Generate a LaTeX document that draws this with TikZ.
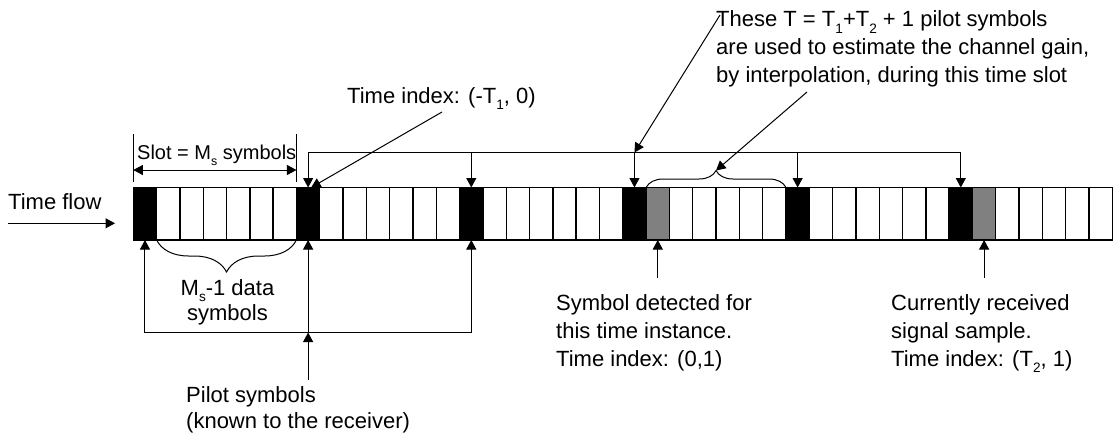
\documentclass[tikz,border=0pt]{standalone}
\usepackage{graphicx}
\usepackage{fontspec}
\setmainfont{Liberation Sans}
\usetikzlibrary{arrows.meta,decorations.pathreplacing,calc}
\definecolor{midgray}{RGB}{128,128,128}
% small index set well below the baseline
\newcommand\lowsub[1]{\raisebox{-0.3em}{\scalebox{0.62}{#1}}}

\begin{document}
\begin{tikzpicture}[x=1pt,y=-1pt,
  cell/.style={draw, line width=1.4pt, minimum width=23.31pt, minimum height=52.5pt,
               inner sep=0pt, outer sep=0pt},
  wire/.style={line width=1pt},
  tip/.tip={Triangle[length=9.5pt,width=10pt]},
  arr/.style={wire, -tip},
  lbl/.style={font=\fontsize{22}{28}\selectfont, inner sep=0pt, align=left},
  small/.style={font=\fontsize{20}{24}\selectfont, inner sep=0pt}]

\useasboundingbox (0,0) rectangle (1119,440);
\fill[white] (0,0) rectangle (1119,440);

% the symbol stream: 6 slots of 7 symbols, pilot first in each slot
\foreach \i in {0,...,41}{
  \pgfmathtruncatemacro\r{mod(\i,7)}
  \ifnum\r=0 \def\fc{black}\else\def\fc{white}\fi
  \ifnum\i=22 \def\fc{midgray}\fi
  \ifnum\i=36 \def\fc{midgray}\fi
  \node[cell, fill=\fc] (c\i) at ({133.3+23.31*(\i+0.5)},213.75) {};
}

% time flow
\node[lbl, anchor=base west] (tflow) at (8,209) {Time flow};
\coordinate (tfa) at (8,223.3);
\coordinate (tfb) at (115,223.3);
\draw[arr] (tfa) -- (tfb);

% slot length
\coordinate (bartop) at (0,134);
\coordinate (barbot) at (0,181.7);
\coordinate (dimy) at (0,170);
\node[small, anchor=base west] (slot) at (137,159) {Slot = M\lowsub{s} symbols};
\draw[wire] (c0.north west |- bartop) -- (c0.north west |- barbot);
\draw[wire] (c7.north west |- bartop) -- (c7.north west |- barbot);
\draw[wire, tip-tip] (c0.north west |- dimy) -- (c7.north west |- dimy);

% first pilot used for interpolation
\node[lbl, anchor=base west] (tidx) at (347,103) {Time index: (-T\lowsub{1}, 0)};
\coordinate (tidxs) at (442,112);
\draw[arr] (tidxs) -- ([xshift=3pt]c7.north);

% pilots used for interpolation
\coordinate (topy) at (0,152.5);
\draw[wire] (c7.north |- topy) -- (c35.north |- topy);
\foreach \k in {7,14,21,28,35} \draw[arr] (c\k.north |- topy) -- (c\k.north);

\draw[wire, decorate, decoration={brace, amplitude=17pt}] (c22.north west) -- (c28.north west);
\coordinate (bt) at ($(c22.north west)!0.5!(c28.north west)+(0,-17)$);

% multi-line labels are placed by the baseline of their last line
\node[lbl, anchor=base west] (est) at (716,82.5)
  {These T = T\lowsub{1}+T\lowsub{2} + 1 pilot symbols\\are used to estimate the channel gain,\\by interpolation, during this time slot};
\coordinate (estA) at (720,15);
\coordinate (estB) at (807,92);
\draw[arr] (estA) -- (c21.north |- topy);
\draw[arr] (estB) -- (bt);

% pilot symbols below
\coordinate (boty) at (0,332.5);
\coordinate (psy) at (0,380);
\draw[wire, tip-tip] (c0.south) -- (c0.south |- boty) -- (c14.south |- boty) -- (c14.south);
\draw[arr] (c7.south |- boty) -- (c7.south);
\draw[arr] (c7.south |- psy) -- (c7.south |- boty);
\node[lbl, anchor=base west, font=\fontsize{22}{26.5}\selectfont] (pilots) at (186,428.5) {Pilot symbols\\(known to the receiver)};

% data symbols of one slot
\draw[wire, decorate, decoration={brace, mirror, amplitude=32pt}] (c1.south west) -- (c7.south west);
\node[lbl, align=center, anchor=base, font=\fontsize{22}{25.5}\selectfont] (data) at (227.5,320.5) {M\lowsub{s}-1 data\\symbols};

% detected and received symbols
\coordinate (dety) at (0,278);
\draw[arr] (c22.south |- dety) -- (c22.south);
\draw[arr] (c36.south |- dety) -- (c36.south);
\node[lbl, anchor=base west] (det) at (556,366) {Symbol detected for\\this time instance.\\Time index: (0,1)};
\node[lbl, anchor=base west] (cur) at (891,366) {Currently received\\signal sample.\\Time index: (T\lowsub{2}, 1)};

\end{tikzpicture}
\end{document}
